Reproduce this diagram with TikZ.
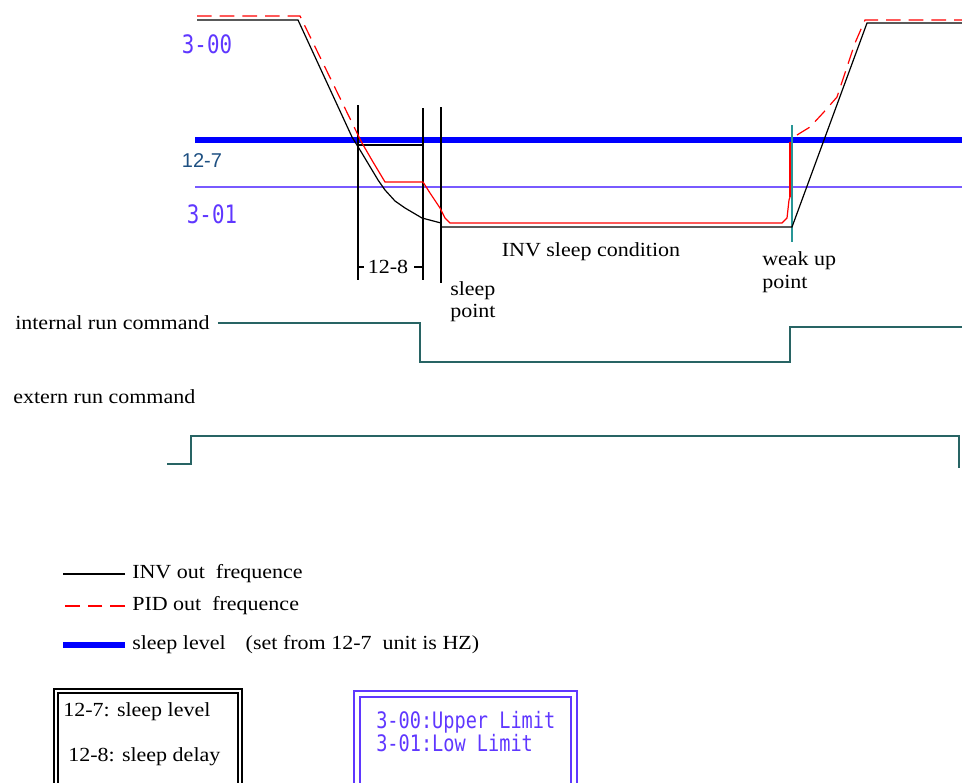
\documentclass[tikz,border=0pt]{standalone}
\usepackage{fontspec}
\setmainfont{Liberation Serif}[FakeStretch=1.1]
\newfontfamily\lcdfont{DejaVu Sans Mono}[FakeStretch=0.82]
\newfontfamily\labfont{Liberation Sans}
\usetikzlibrary{positioning,calc}
\definecolor{cpid}{RGB}{255,0,0}
\definecolor{csleep}{RGB}{0,0,255}
\definecolor{cpur}{RGB}{95,55,255}
\definecolor{clow}{RGB}{120,90,255}
\definecolor{cdark}{RGB}{30,80,130}
\definecolor{ccmd}{RGB}{40,100,100}
\definecolor{cwake}{RGB}{40,150,150}

\begin{document}
\begin{tikzpicture}[
  x=0.75pt,y=-0.75pt,
  txt/.style={font=\fontsize{15}{17}\selectfont,inner sep=0pt},
  lcd/.style={font=\lcdfont\fontsize{19}{20}\selectfont,text=cpur,inner sep=0pt},
  lcdsmall/.style={lcd,font=\lcdfont\fontsize{17}{18}\selectfont},
  inv/.style={black,line width=0.9pt},
  pid/.style={cpid,line width=0.9pt},
  piddash/.style={pid,dash pattern=on 11pt off 6pt},
  sleeplvl/.style={csleep,line width=4.5pt},
  lowlim/.style={clow,line width=1.2pt},
  cmd/.style={ccmd,line width=1.5pt,line join=miter},
  vline/.style={black,line width=1pt}
]
  \useasboundingbox (0,0) rectangle (962,782);
  \clip (0,0) rectangle (962,782);

  \draw[black,line width=2.2pt] (358,145) -- (423,145);
  \draw[sleeplvl] (195,140) -- (962,140);
  \draw[lowlim] (195,187) -- (962,187);

  \node[lcd] (lab300) at (207,44) {3-00};
  \node[font=\labfont\fontsize{15}{17}\selectfont,text=cdark,inner sep=0pt] (lab127) at (202,161) {12-7};
  \node[lcd] (lab301) at (212,214) {3-01};

  \draw[vline] (358,105) -- (358,280);
  \draw[vline] (423,108) -- (423,280);
  \draw[vline] (441,107) -- (441,283);
  \node[txt] (delay) at (388,267) {12-8};
  \draw[vline] (358,267) -- (364,267);
  \draw[vline] (414,267) -- (423,267);
  \draw[cwake,line width=1.3pt] (792,125) -- (792,242);

  \draw[piddash] (197,16) -- (300,16) -- (358,135);
  \draw[pid] (358,135) -- (362,143) -- (373,162) -- (385,182) -- (423,182) -- (430,193)
    -- (440,208) -- (445,218) -- (450,223) -- (782,223) -- (787,218) -- (789,200) -- (790,197);
  \draw[pid,line width=1.6pt] (790,197) -- (790,142);
  \draw[piddash] (797,135) -- (810,127) -- (823,113) -- (837,97) -- (847,67) -- (855,43)
    -- (865,20) -- (962,20);

  \draw[inv] (197,20) -- (298,20) -- (352,137) -- (360,150) -- (378,180) -- (385,190)
    -- (395,201) -- (405,208) -- (422,218) -- (441,223) -- (441,227) -- (792,227) -- (867,23) -- (962,23);

  \node[txt] (cond) at (591,252) {INV sleep condition};
  \node[txt,anchor=north west,align=left] (sleeppt) at (450,281) {sleep\\point};
  \node[txt,anchor=north west,align=left,font=\fontsize{15}{17.5}\selectfont] (wakept) at (762,251) {weak up\\point};

  \node[txt,anchor=west] (intcmd) at (15,323) {internal run command};
  \draw[cmd] ([xshift=6pt]intcmd.east) -| (420,362) -- (790,362) |- (962,327);
  \node[txt,anchor=west] (extcmd) at (13,397) {extern run command};
  \draw[cmd] (167,464) -| (191,436) -| (959,468);

  \node[txt,anchor=west] (leginv) at (132,574) {INV out\ \ frequence};
  \draw[inv] ([xshift=-5.25pt]leginv.west) -- ++(-62,0);
  \node[txt,anchor=west] (legpid) at (132,606) {PID out\ \ frequence};
  \draw[pid,dash pattern=on 11pt off 6pt] ([xshift=-5.25pt]legpid.west) -- ++(-62,0);
  \node[txt,anchor=west] (legsleep) at (132,645) {sleep level\quad (set from 12-7\ \ unit\ is\ HZ)};
  \draw[sleeplvl] ([xshift=-5.25pt]legsleep.west) -- ++(-62,0);

  \draw[black,line width=1.6pt] (54,689) rectangle (242,800);
  \draw[black,line width=0.8pt] (58,693) rectangle (238,800);
  \node[txt,anchor=west] (parlvl) at (63,712) {12-7: sleep level};
  \node[txt,anchor=west] (pardly) at (68,757) {12-8: sleep delay};

  \draw[cpur,line width=1.5pt] (354,691) rectangle (577,800);
  \draw[cpur,line width=1.5pt] (360,697) rectangle (571,800);
  \node[lcdsmall,anchor=west] (parup) at (376,722) {3-00:Upper Limit};
  \node[lcdsmall,anchor=west] (parlow) at (376,743) {3-01:Low Limit};
\end{tikzpicture}
\end{document}
